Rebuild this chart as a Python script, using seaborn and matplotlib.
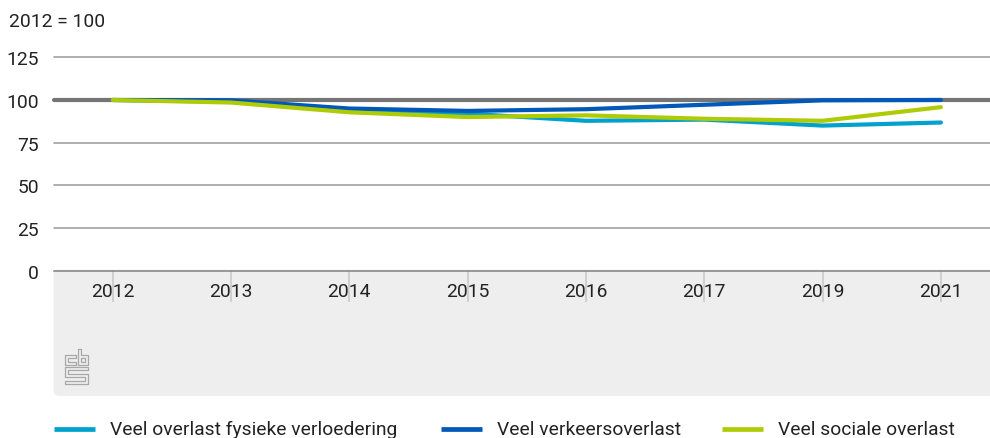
import matplotlib
matplotlib.use("Agg")
import matplotlib.pyplot as plt
from matplotlib.lines import Line2D
from matplotlib.patches import FancyBboxPatch
import pandas as pd
import seaborn as sns

years = ["2012", "2013", "2014", "2015", "2016", "2017", "2019", "2021"]
fysiek = [100, 99, 93.5, 92, 87.8, 88.5, 85, 86.8]
verkeer = [100, 99.8, 95, 93.6, 94.6, 97.2, 99.8, 100]
sociaal = [100, 98.5, 92.8, 90, 91, 89, 87.8, 95.8]
series_names = ["Veel overlast fysieke verloedering", "Veel verkeersoverlast", "Veel sociale overlast"]
colors = ["#00A1CD", "#0058B8", "#AFCB05"]
yticks = [0, 25, 50, 75, 100, 125]

W, H = 990, 439
sns.set_theme(style="white", rc={"axes.unicode_minus": False})
plt.rcParams["font.family"] = ["Roboto"]
TXT = "#222222"
FS = 13.9

df = pd.DataFrame({"jaar": years * 3,
                   "waarde": fysiek + verkeer + sociaal,
                   "reeks": sum([[n] * len(years) for n in series_names], [])})

fig = plt.figure(figsize=(W / 100, H / 100), dpi=100)
ax = fig.add_axes([54 / W, 1 - 271.7 / H, (W - 54) / W, (271.7 - 58.3) / H])


def px(x, y):
    return x / W, 1 - y / H


# grey footer band
band = FancyBboxPatch(px(55, 395.5), (W - 55 + 8) / W, 123.5 / H,
                      boxstyle="round,pad=0,rounding_size=0.004",
                      transform=fig.transFigure, fc="#EEEEEE", ec="#EEEEEE", lw=2,
                      mutation_aspect=W / H, zorder=-1)
fig.add_artist(band)
band.set_zorder(-1)

sns.lineplot(data=df, x="jaar", y="waarde", hue="reeks", palette=colors, sort=False,
             hue_order=series_names, linewidth=3, errorbar=None, ax=ax, legend=False, zorder=5)

ax.set_xlim(-0.495, 7.415)
ax.set_ylim(0, 125)
ax.set_yticks(yticks)
ax.set_xlabel("")
ax.set_ylabel("")
ax.patch.set_alpha(0)
for s in ["top", "right", "left"]:
    ax.spines[s].set_visible(False)
ax.spines["bottom"].set_color("#808080")
ax.spines["bottom"].set_linewidth(1.1)
for v in yticks[1:]:
    ax.axhline(v, color="#757575" if v == 100 else "#999999",
               lw=3 if v == 100 else 1.1, zorder=1, clip_on=False)
ax.tick_params(axis="y", length=0, pad=10.8, labelsize=FS, labelcolor=TXT)
ax.tick_params(axis="x", length=22.5, width=1.3, color="#CCCCCC", direction="out",
               pad=-14.5, labelsize=FS, labelcolor=TXT, bottom=True)

fig.text(*px(9, 22), "2012 = 100", fontsize=FS, color=TXT, va="center", ha="left")

# legend
handle_x = [54, 441, 722]
for name, col, hx in zip(series_names, colors, handle_x):
    fig.add_artist(Line2D([hx / W, (hx + 41) / W], [1 - 430 / H] * 2, color=col, lw=3.4,
                          solid_capstyle="butt"))
    fig.text((hx + 56) / W, 1 - 430 / H, name, fontsize=FS, color=TXT, va="center", ha="left")

# cbs logo
logo = [
    [(65, 366), (65, 356), (76, 356), (76, 359), (68, 359), (68, 363), (76, 363), (76, 366), (65, 366)],
    [(78, 366), (78, 350), (81, 350), (81, 356), (88, 356), (88, 366), (78, 366)],
    [(81, 359), (85, 359), (85, 363), (81, 363), (81, 359)],
    [(65, 368), (88, 368), (88, 371), (68, 371), (68, 375), (88, 375), (88, 385), (65, 385), (65, 382),
     (85, 382), (85, 378), (65, 378), (65, 368)],
]
for path in logo:
    xs, ys = zip(*[px(a, b) for a, b in path])
    fig.add_artist(Line2D(xs, ys, color="#A8A8A8", lw=0.9))

fig.savefig("out.png", dpi=100)
